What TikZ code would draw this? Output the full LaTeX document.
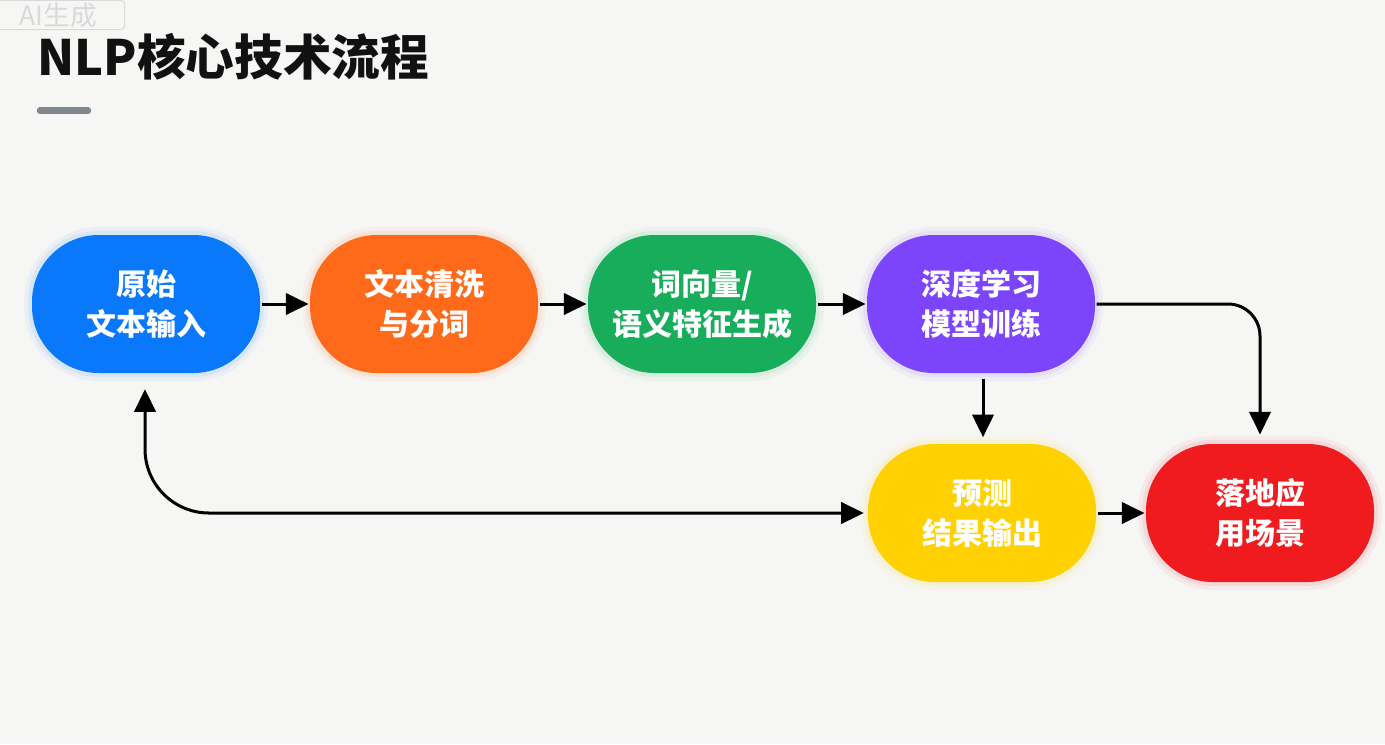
\documentclass[tikz,border=0pt]{standalone}
\usepackage{fontspec}
\usepackage{tikz}
\usepackage{xcolor}
\usetikzlibrary{arrows.meta}
\setmainfont{Noto Sans CJK SC}
\definecolor{FontColor}{HTML}{111111}
\definecolor{PaperNLP}{HTML}{F6F6F4}
\definecolor{BarNLP}{HTML}{80878F}
\definecolor{MarkNLP}{HTML}{D9D9D9}
\definecolor{BlueNLP}{HTML}{0A78FA}
\definecolor{OrangeNLP}{HTML}{FF6A1A}
\definecolor{GreenNLP}{HTML}{17AD5B}
\definecolor{PurpleNLP}{HTML}{7C45FB}
\definecolor{YellowNLP}{HTML}{FFD100}
\definecolor{RedNLP}{HTML}{F01B1E}
\newcommand\nodeinput{原始\\文本输入}
\newcommand\nodeclean{文本清洗\\与分词}
\newcommand\nodevec{词向量/\\语义特征生成}
\newcommand\nodetrain{深度学习\\模型训练}
\newcommand\nodepred{预测\\结果输出}
\newcommand\nodeapp{落地应\\用场景}
\tikzstyle{mynodestyle} = [rectangle, rounded corners=50pt, minimum width=171pt, minimum height=103.5pt, align=center, text=white, font=\bfseries\fontsize{22.5pt}{30pt}\selectfont]
\tikzset{fn/.style={mynodestyle, fill=#1,
  preaction={draw=#1, draw opacity=0.05, line width=12pt},
  preaction={draw=#1, draw opacity=0.08, line width=6pt}}}
\tikzset{>={Triangle[length=17pt,width=16pt]}, every picture/.style={line width=2.25pt}}

\begin{document}
\begin{tikzpicture}[x=0.75pt,y=-0.75pt]
\fill[PaperNLP] (0,0) rectangle (1385,744);
\useasboundingbox (0,0) rectangle (1385,744);
\node[draw=MarkNLP, line width=0.8pt, rounded corners=3pt, text=MarkNLP, minimum width=100pt, minimum height=22pt, inner sep=1pt, font=\fontsize{20pt}{22pt}\selectfont] (mark) at (58,15) {AI生成};
\node[anchor=west, inner sep=0pt, text=FontColor, font=\bfseries\fontsize{36.5pt}{40pt}\selectfont] (title) at (36,57) {NLP核心技术流程};
\node[fill=BarNLP, rounded corners=2pt, inner sep=0pt, minimum width=40.5pt, minimum height=5pt] (bar) at (64,110.5) {};
\node[fn=BlueNLP] (in) at (146,304) {\nodeinput};
\node[fn=OrangeNLP] (clean) at (424,304) {\nodeclean};
\node[fn=GreenNLP] (vec) at (702,304) {\nodevec};
\node[fn=PurpleNLP] (train) at (981,304) {\nodetrain};
\node[fn=YellowNLP] (pred) at (982,513) {\nodepred};
\node[fn=RedNLP] (app) at (1260,513) {\nodeapp};
\draw [->] (in) -- (clean);
\draw [->] (clean) -- (vec);
\draw [->] (vec) -- (train);
\draw [->, shorten <=3pt, shorten >=4pt] ([xshift=1.5pt]train.south) -- ([xshift=0.75pt]pred.north);
\draw [->, rounded corners=24pt, shorten >=6pt] (train.east) -| (app.north);
\draw [->] (pred) -- (app);
\draw [<->, rounded corners=48pt, shorten <=11pt, shorten >=2pt] ([xshift=-0.75pt]in.south) |- (pred.west);
\end{tikzpicture}
\end{document}
